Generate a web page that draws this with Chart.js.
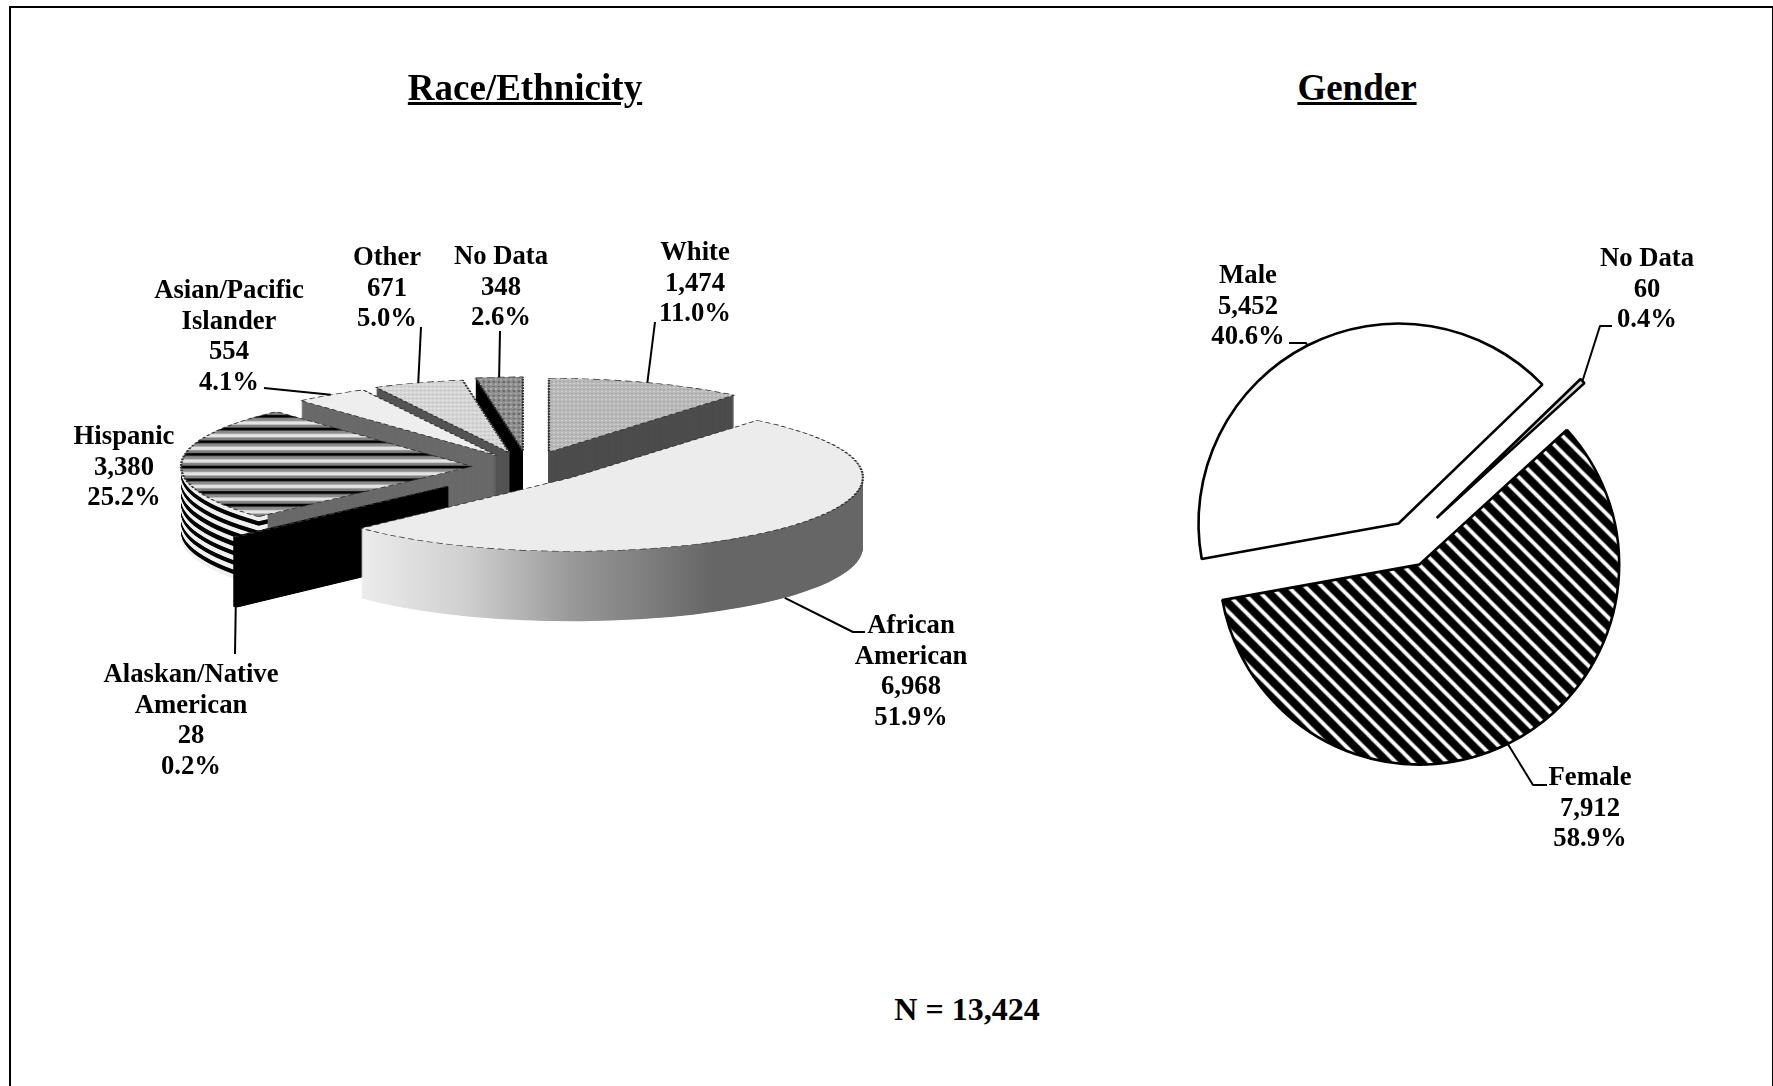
<!DOCTYPE html>
<html><head><meta charset="utf-8">
<script src="https://cdn.jsdelivr.net/npm/chart.js@4"></script>
<style>
html,body{margin:0;padding:0;background:#fff;}
#page{position:relative;width:1773px;height:1086px;overflow:hidden;background:#fff;font-family:"Liberation Serif","Times New Roman",serif;font-weight:bold;color:#000;}
#frame{position:absolute;left:9px;top:6px;width:1761px;height:1200px;border:2.5px solid #000;box-sizing:content-box;}
canvas{position:absolute;}
.t{position:absolute;transform:translateX(-50%);text-align:center;white-space:pre;line-height:30.6px;font-size:26.7px;}
.title{position:absolute;transform:translateX(-50%);font-size:37px;line-height:44px;text-decoration:underline;white-space:pre;}
.n{position:absolute;transform:translateX(-50%);font-size:32px;line-height:40px;white-space:pre;}
</style></head>
<body><div id="page"><div id="frame"></div>
<canvas id="race" width="1000" height="800" style="left:28px;top:67px;width:1000px;height:800px"></canvas>
<canvas id="gender" width="640" height="640" style="left:1089px;top:224px;width:640px;height:640px"></canvas>
</div>
<script>
// ---- data ----
const raceCategories = ['White','African American','Alaskan/Native American','Hispanic','Asian/Pacific Islander','Other','No Data'];
const raceValues = [1474,6968,28,3380,554,671,348];
const racePercents = ['11.0%','51.9%','0.2%','25.2%','4.1%','5.0%','2.6%'];
const raceCounts = ['1,474','6,968','28','3,380','554','671','348'];
const raceNames = ['White','African\nAmerican','Alaskan/Native\nAmerican','Hispanic','Asian/Pacific\nIslander','Other','No Data'];
const genderCategories = ['Female','Male','No Data'];
const genderValues = [7912,5452,60];
const genderPercents = ['58.9%','40.6%','0.4%'];
const genderCounts = ['7,912','5,452','60'];
const titles = ['Race/Ethnicity','Gender'];
const totalNote = 'N = 13,424';

// ---- pattern helpers ----
function tile(w,h,paint){const c=document.createElement('canvas');c.width=w;c.height=h;paint(c.getContext('2d'),w,h);
  return document.getElementById('race').getContext('2d').createPattern(c,'repeat');}
const stipple=(bg,a,b)=>tile(4,16,(g,w,h)=>{g.fillStyle=bg;g.fillRect(0,0,w,h);g.fillStyle=a;g.fillRect(0,0,2,4);g.fillStyle=b;g.fillRect(2,8,2,4);});
const hispTop=tile(4,50,(g,w,h)=>{const l=g.createLinearGradient(0,0,0,h);
  l.addColorStop(0,'#000');l.addColorStop(.1,'#000');l.addColorStop(.24,'#8c8c8c');l.addColorStop(.38,'#8c8c8c');l.addColorStop(.5,'#e4e4e4');l.addColorStop(.66,'#e4e4e4');l.addColorStop(.78,'#808080');l.addColorStop(.9,'#808080');l.addColorStop(1,'#000');
  g.fillStyle=l;g.fillRect(0,0,w,h);});
const femaleStripes=tile(17,17,(g,w,h)=>{g.fillStyle='#000';g.fillRect(0,0,w,h);g.strokeStyle='#fff';g.lineWidth=3.8;g.filter='blur(0.5px)';
  for(const o of [-34,-17,0,17,34]){g.beginPath();g.moveTo(o-4,-4);g.lineTo(o+21,21);g.stroke();}});
const raceFills=[stipple('#b9b9b9','#cfcfcf','#a8a8a8'),'#ececec','#000',hispTop,'#eeeeee',stipple('#d6d6d6','#e6e6e6','#c2c2c2'),
  tile(5,18,(g,w,h)=>{g.fillStyle='#8e8e8e';g.fillRect(0,0,w,h);g.fillStyle='#666';g.fillRect(0,0,2,6);g.fillStyle='#b0b0b0';g.fillRect(2,9,2,6);})];
const genderFills=[femaleStripes,'#ffffff','#d9d9d9'];

// ---- 3D / exploded pie drawing through the library's own arc elements ----
function drawArc(ctx,arc,over,extra){
  const s=Object.create(arc);
  s.options=Object.assign({},arc.options,over);
  if(extra) Object.assign(s,extra);
  arc.draw.call(s,ctx);
}
function place(ctx,arc,o,dist,depth){
  const mid=(arc.startAngle+arc.endAngle)/2;
  ctx.translate(arc.x,arc.y+depth);
  ctx.scale(1,o.tilt);
  ctx.translate(Math.cos(mid)*dist,Math.sin(mid)*dist);
  ctx.translate(-arc.x,-arc.y);
}
const slicePlugin={id:'slicePlugin',
  beforeDatasetDraw(chart,args,o){
    const ctx=chart.ctx,arcs=args.meta.data;
    for(const i of o.order){
      const arc=arcs[i],dist=o.explode[i];
      if(o.depth){
        const kind=o.walls[i];
        // solid stack for the wall; the striped slice gets a grey cut face first
        for(let d=o.depth;d>=0.5;d-=0.5){
          ctx.save();place(ctx,arc,o,dist,d);
          let fill=kind==='stripes'?'#6a6a6a':kind;
          if(kind==='gradient'){const g=ctx.createLinearGradient(arc.x-arc.outerRadius*.72,0,arc.x+arc.outerRadius*.48,0);
            g.addColorStop(0,'#ececec');g.addColorStop(.3,'#cfcfcf');g.addColorStop(.6,'#999');g.addColorStop(1,'#666');fill=g;}
          const thin=(arc.endAngle-arc.startAngle)<.1;
          drawArc(ctx,arc,{backgroundColor:fill,borderColor:fill,borderWidth:thin?3:0,borderDash:[]},kind==='stripes'?{outerRadius:arc.outerRadius-3}:null);
          ctx.restore();
        }
        if(kind==='stripes'){
          for(let d=o.depth;d>=0.5;d-=0.5){ctx.save();place(ctx,arc,o,dist,d);
            const fill=(Math.floor(d/4.7)%2)?'#000':'#f0f0f0';
            drawArc(ctx,arc,{backgroundColor:fill,borderWidth:0,borderDash:[]},{innerRadius:arc.outerRadius*.955});ctx.restore();}
        }
      }
      ctx.save();place(ctx,arc,o,dist,0);
      ctx.setLineDash(o.dash||[]);
      drawArc(ctx,arc,{borderDash:o.dash||[]});
      ctx.restore();
    }
    return false;
  },
  afterDraw(chart,args,o){
    const ctx=chart.ctx,arcs=chart.getDatasetMeta(0).data,box=chart.canvas.getBoundingClientRect();
    const page=document.getElementById('page').getBoundingClientRect();
    ctx.save();ctx.strokeStyle='#000';ctx.lineWidth=o.leaderWidth;ctx.lineJoin='round';
    o.leaders.forEach((pts,i)=>{
      if(!pts) return;
      const a=arcs[i],mid=(a.startAngle+a.endAngle)/2,r=a.outerRadius,dist=o.explode[i];
      const x=a.x+Math.cos(mid)*(r+dist),y=a.y+Math.sin(mid)*(r+dist)*o.tilt+(o.frontLeaders&&o.frontLeaders[i]?o.depth:0);
      ctx.beginPath();ctx.moveTo(x,y);
      for(const p of pts) ctx.lineTo(p[0]-(box.left-page.left),p[1]-(box.top-page.top));
      ctx.stroke();
    });
    ctx.restore();
  }
};
const raceWalls=['#4d4d4d','gradient','#000','stripes','#6a6a6a','#555555','#000'];
const raceExplode=[62,60,110,56,55,58,64];
const raceOrder=[0,6,5,4,3,2,1];
const raceLeaders=[[[655,322]],[[853,632],[865,632]],[[235,654]],null,[[264,388]],[[421,327]],[[500,331]]];
const raceFront=[false,true,true,false,false,false,false];
const genderExplode=[23,23,38];
const genderOrder=[0,1,2];
const genderLeaders=[[[1533,785],[1547,785]],[[1306,343],[1289,343]],[[1600,326],[1612,326]]];

Chart.defaults.font.family='"Liberation Serif",serif';
new Chart(document.getElementById('race'),{type:'pie',plugins:[slicePlugin],
  data:{labels:raceCategories,datasets:[{data:raceValues,backgroundColor:raceFills,borderColor:'#333',borderWidth:2.4,offset:0}]},
  options:{responsive:false,animation:false,radius:291,rotation:0,events:[],
    plugins:{legend:{display:false},tooltip:{enabled:false},
      slicePlugin:{tilt:.254,depth:70,explode:raceExplode,order:raceOrder,walls:raceWalls,dash:[7,4],leaders:raceLeaders,frontLeaders:raceFront,leaderWidth:2}}}});
new Chart(document.getElementById('gender'),{type:'pie',plugins:[slicePlugin],
  data:{labels:genderCategories,datasets:[{data:genderValues,backgroundColor:genderFills,borderColor:'#000',borderWidth:2.6,offset:0}]},
  options:{responsive:false,animation:false,radius:200,rotation:47.6,events:[],
    plugins:{legend:{display:false},tooltip:{enabled:false},
      slicePlugin:{tilt:1,depth:0,explode:genderExplode,order:genderOrder,walls:[],leaders:genderLeaders,leaderWidth:2}}}});

// ---- text ----
const page=document.getElementById('page');
function put(cls,text,x,y){const e=document.createElement('div');e.className=cls;e.textContent=text;e.style.left=x+'px';e.style.top=y+'px';page.appendChild(e);}
const racePos=[[695,236],[911,609],[191,658],[124,420],[229,274],[387,241],[501,240]];
raceCategories.forEach((c,i)=>put('t',raceNames[i]+'\n'+raceCounts[i]+'\n'+racePercents[i],racePos[i][0],racePos[i][1]));
const genderPos=[[1590,761],[1248,259],[1647,242]];
genderCategories.forEach((c,i)=>put('t',c+'\n'+genderCounts[i]+'\n'+genderPercents[i],genderPos[i][0],genderPos[i][1]));
put('title',titles[0],525,66);put('title',titles[1],1357,66);
put('n',totalNote,967,989);
</script></body></html>
